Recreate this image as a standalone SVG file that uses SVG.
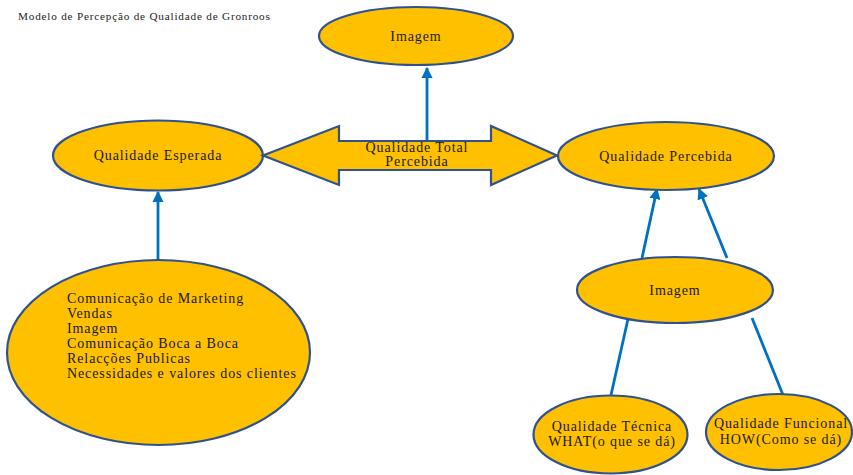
<svg xmlns="http://www.w3.org/2000/svg" width="853" height="475" viewBox="0 0 853 475">
  <style>
    .node { fill: #FFC000; stroke: #2F528F; stroke-width: 2.2; }
    .link { stroke: #0070C0; stroke-width: 2.8; fill: none; }
  </style>
  <defs>
    <marker id="tip" viewBox="0 0 10 10" refX="9" refY="5" markerWidth="4" markerHeight="4" orient="auto" markerUnits="strokeWidth">
      <path d="M0,0 L10,5 L0,10 Z" fill="#0070C0"/>
    </marker>
  </defs>

  <rect width="853" height="475" fill="#ffffff"/>

  <text x="18" y="20" font-family="Liberation Serif, serif" font-size="11.2" letter-spacing="0.8" fill="#222">Modelo de Percepção de Qualidade de Gronroos</text>

  <!-- connectors -->
  <g id="connectors">
    <line class="link" x1="427" y1="141" x2="427" y2="68" marker-end="url(#tip)"/>
    <line class="link" x1="158" y1="260" x2="158" y2="192" marker-end="url(#tip)"/>
    <line class="link" x1="642" y1="258" x2="657" y2="189" marker-end="url(#tip)"/>
    <line class="link" x1="727" y1="258" x2="699" y2="189" marker-end="url(#tip)"/>
    <line class="link" x1="628" y1="319" x2="611" y2="395"/>
    <line class="link" x1="752" y1="318" x2="783" y2="395"/>
  </g>

  <g font-family="Liberation Serif, serif" font-size="14" letter-spacing="0.9" fill="#1a1a1a">
    <g id="imagem-topo">
      <ellipse class="node" cx="416" cy="36" rx="97" ry="29"/>
      <text x="416" y="41" text-anchor="middle">Imagem</text>
    </g>

    <g id="qualidade-esperada">
      <ellipse class="node" cx="158" cy="155.5" rx="105" ry="35"/>
      <text x="158" y="160" text-anchor="middle">Qualidade Esperada</text>
    </g>

    <g id="qualidade-total">
      <path class="node" d="M263,155.5 L339,126 L339,141 L491,141 L491,126 L557,155.5 L491,185 L491,170 L339,170 L339,185 Z"/>
      <text x="417" y="152" text-anchor="middle">Qualidade Total</text>
      <text x="417" y="166" text-anchor="middle">Percebida</text>
    </g>

    <g id="qualidade-percebida">
      <ellipse class="node" cx="666" cy="156" rx="108" ry="34"/>
      <text x="666" y="161" text-anchor="middle">Qualidade Percebida</text>
    </g>

    <g id="imagem">
      <ellipse class="node" cx="675" cy="290" rx="98" ry="33"/>
      <text x="675" y="295" text-anchor="middle">Imagem</text>
    </g>

    <g id="qualidade-tecnica">
      <ellipse class="node" cx="610.5" cy="434.5" rx="77" ry="39"/>
      <text x="612" y="431" text-anchor="middle">Qualidade Técnica</text>
      <text x="612" y="446" text-anchor="middle">WHAT(o que se dá)</text>
    </g>

    <g id="qualidade-funcional">
      <ellipse class="node" cx="779" cy="432" rx="73" ry="38"/>
      <text x="781" y="428" text-anchor="middle">Qualidade Funcional</text>
      <text x="781" y="444" text-anchor="middle">HOW(Como se dá)</text>
    </g>

    <g id="fatores">
      <ellipse class="node" cx="158.5" cy="352.5" rx="151.5" ry="92.5"/>
      <text x="67" y="303">Comunicação de Marketing</text>
      <text x="67" y="318">Vendas</text>
      <text x="67" y="333">Imagem</text>
      <text x="67" y="348">Comunicação Boca a Boca</text>
      <text x="67" y="363">Relacções Publicas</text>
      <text x="67" y="378">Necessidades e valores dos clientes</text>
    </g>
  </g>
</svg>
